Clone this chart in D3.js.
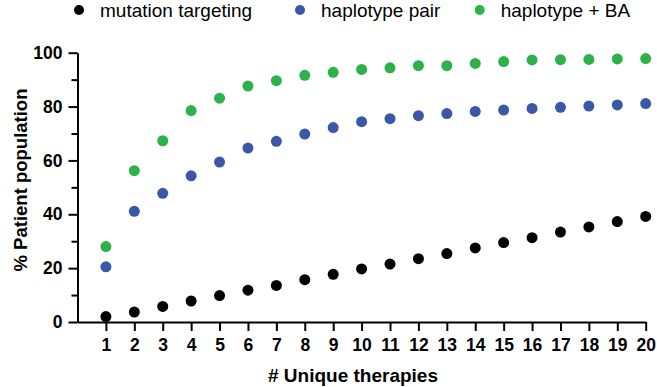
<!DOCTYPE html>
<html>
<head>
<meta charset="utf-8">
<script src="https://cdn.jsdelivr.net/npm/d3@7"></script>
<style>
    html, body { margin: 0; padding: 0; background: #fff; }
    svg { display: block; font-family: "Liberation Sans", Arial, sans-serif; }
    .axis path, .axis line { stroke: #000; stroke-width: 2; }
    .axis text { font-size: 17.5px; font-weight: bold; fill: #000; }
</style>
</head>
<body>
<svg id="chart" width="657" height="387"></svg>
<script>
// 数据
var therapies = d3.range(1, 21);
var mutationTargeting = [2.0, 3.7, 5.8, 7.8, 9.8, 11.8, 13.6, 15.7, 17.7, 19.7,
                         21.5, 23.5, 25.4, 27.5, 29.5, 31.3, 33.4, 35.3, 37.3, 39.2];
var haplotypePair = [20.5, 41.1, 47.8, 54.3, 59.4, 64.6, 67.1, 69.8, 72.2, 74.4,
                     75.5, 76.6, 77.4, 78.2, 78.7, 79.3, 79.7, 80.2, 80.6, 81.1];
var haplotypeBA = [28.0, 56.2, 67.3, 78.5, 83.1, 87.6, 89.6, 91.6, 92.7, 93.8,
                   94.4, 95.2, 95.2, 96.0, 96.7, 97.3, 97.4, 97.5, 97.7, 97.8];
var seriesNames = ["mutation targeting", "haplotype pair", "haplotype + BA"];
var seriesColors = ["#000000", "#3b57a7", "#2db24a"];
var yTicks = [0, 20, 40, 60, 80, 100];
var yMinorTicks = [10, 30, 50, 70, 90];

(function () {
    var svg = d3.select("#chart");

    var x = d3.scaleLinear().domain([0, 20]).range([77.5, 645.7]);
    var y = d3.scaleLinear().domain([0, 100]).range([322, 52.7]);

    // 小刻度
    svg.append("g")
        .attr("class", "axis")
        .attr("transform", "translate(" + x(0) + ",0)")
        .call(d3.axisLeft(y).tickValues(yMinorTicks).tickSize(6).tickSizeOuter(0).tickFormat(""))
        .select(".domain").remove();

    // y 轴
    svg.append("g")
        .attr("class", "axis y-axis")
        .attr("transform", "translate(" + x(0) + ",0)")
        .call(d3.axisLeft(y).tickValues(yTicks).tickSize(9).tickSizeOuter(0).tickPadding(6));

    // x 轴
    svg.append("g")
        .attr("class", "axis x-axis")
        .attr("transform", "translate(0," + y(0) + ")")
        .call(d3.axisBottom(x).tickValues(therapies).tickSize(9).tickSizeOuter(0).tickPadding(8));

    svg.selectAll(".axis text").attr("font-family", null);

    // 点
    var allSeries = [mutationTargeting, haplotypePair, haplotypeBA];
    allSeries.forEach(function (values, si) {
        svg.append("g").selectAll("circle")
            .data(values)
            .enter()
            .append("circle")
            .attr("cx", function (d, i) { return x(therapies[i]); })
            .attr("cy", function (d) { return y(d); })
            .attr("r", 5.5)
            .attr("fill", seriesColors[si]);
    });

    // 图例
    var legendX = [79, 300, 479.7];
    var legend = svg.append("g").selectAll("g")
        .data(seriesNames)
        .enter()
        .append("g")
        .attr("transform", function (d, i) { return "translate(" + legendX[i] + ",10)"; });
    legend.append("circle")
        .attr("r", 5)
        .attr("fill", function (d, i) { return seriesColors[i]; });
    legend.append("text")
        .attr("x", 21)
        .attr("y", 6.7)
        .attr("font-size", "19px")
        .attr("fill", "#000")
        .text(function (d) { return d; });

    // 轴标题
    svg.append("text")
        .attr("x", 353)
        .attr("y", 381.7)
        .attr("text-anchor", "middle")
        .attr("font-size", "19px")
        .attr("font-weight", "bold")
        .text("# Unique therapies");

    svg.append("text")
        .attr("transform", "translate(26.7,180) rotate(-90)")
        .attr("text-anchor", "middle")
        .attr("font-size", "18.5px")
        .attr("font-weight", "bold")
        .text("% Patient population");
})();
</script>
</body>
</html>
